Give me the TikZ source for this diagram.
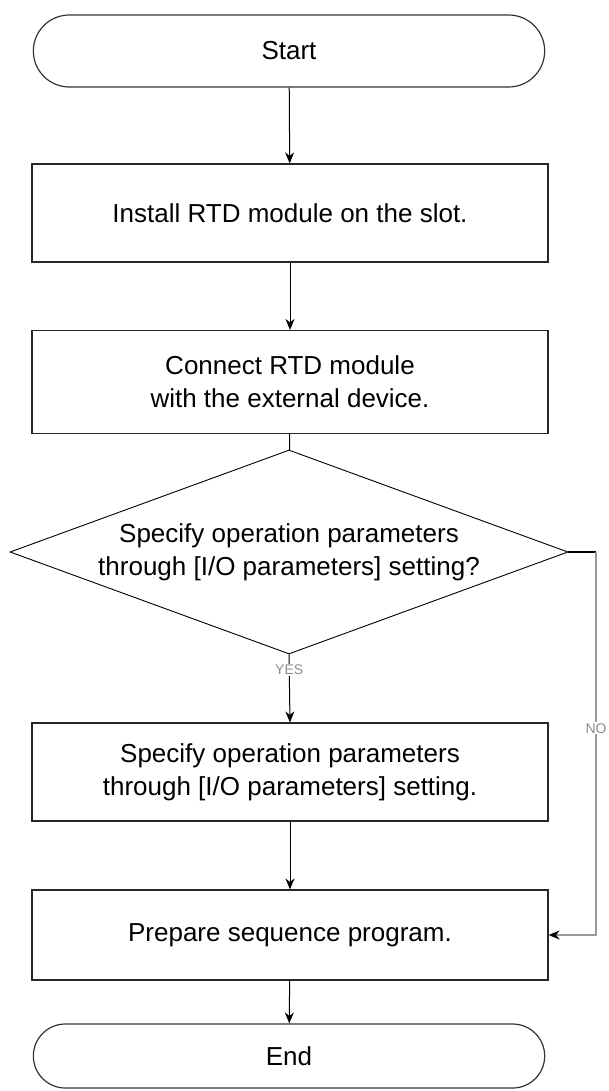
\documentclass[tikz,border=0pt]{standalone}
\usepackage{fontspec}
\setmainfont{Liberation Sans}
\usetikzlibrary{shapes.geometric,shapes.misc,arrows.meta}
\newcommand\flowfont{\fontsize{26}{33}\selectfont}
\newcommand\tagfont{\fontsize{14}{16}\selectfont}
\begin{document}
\begin{tikzpicture}[x=1pt,y=-1pt,
  term/.style={draw=black!80, line width=1.2pt, shape=rounded rectangle, minimum width=518pt, minimum height=72pt, font=\flowfont},
  proc/.style={draw=black!85, line width=1.2pt, minimum width=516pt, minimum height=98pt, align=center, font=\flowfont},
  decide/.style={draw=black, line width=0.9pt, shape=diamond, aspect=2.75, inner sep=0pt, minimum width=558pt, minimum height=204pt, align=center, font=\flowfont},
  flow/.style={draw=black, line width=1pt, -{Stealth[length=11pt,width=9pt]}},
  tag/.style={text=black!45, fill=white, inner sep=1pt, font=\tagfont}]
\useasboundingbox (0,0) rectangle (608,1091);
\node[term] (start) at (289,51) {Start};
\node[proc] (install) at (290,213) {Install RTD module on the slot.};
\node[proc, minimum height=103pt] (connect) at (290,382) {Connect RTD module\\with the external device.};
\node[decide] (check) at (289,552) {Specify operation parameters\\through [I/O parameters] setting?};
\node[proc] (specify) at (290,772) {Specify operation parameters\\through [I/O parameters] setting.};
\node[proc, minimum height=90pt] (prepare) at (290,935) {Prepare sequence program.};
\node[term, minimum height=64pt] (end) at (289,1056) {End};
\coordinate (noturn) at (596,552);
% main flow
\draw[flow] (start) -- (install);
\draw[flow] (install) -- (connect);
\draw[line width=1pt] (connect) -- (check);
\draw[flow] (check.south) -- node[tag, pos=0.23] {YES} (specify.north);
\draw[flow] (specify) -- (prepare);
\draw[flow] (prepare) -- (end);
% NO branch
\draw[line width=2.5pt] (check.east) -- (noturn);
\draw[draw=black!40, line width=1.5pt, -{Stealth[length=11pt,width=9pt,black]}] (noturn) |- node[tag, pos=0.23] {NO} (prepare.east);
\end{tikzpicture}
\end{document}
